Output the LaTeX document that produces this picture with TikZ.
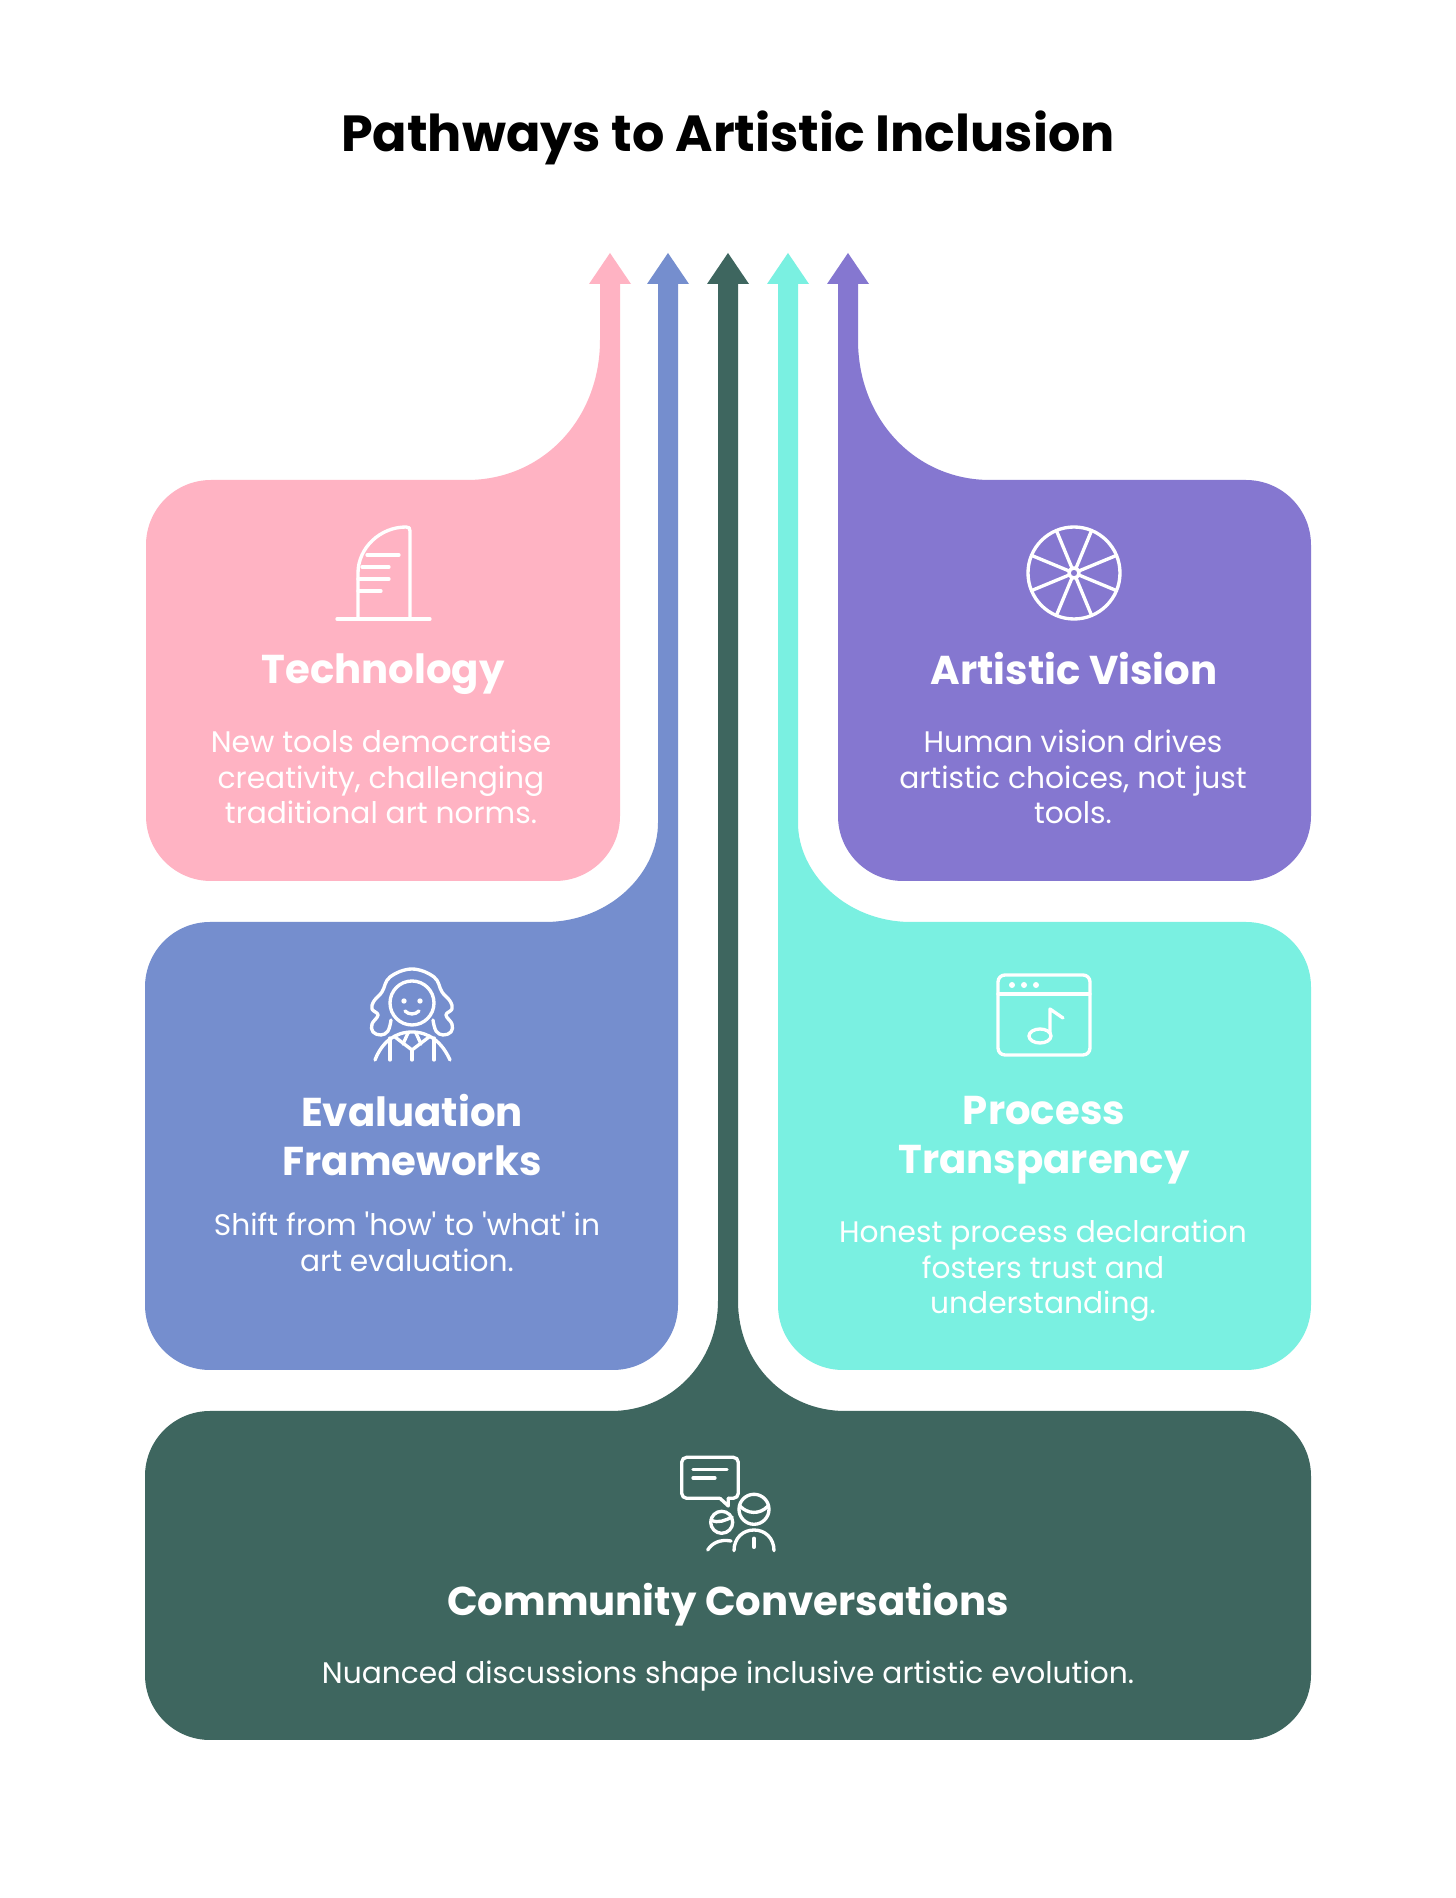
\documentclass[tikz,border=0pt]{standalone}
\usepackage{fontspec}
\setmainfont{Poppins}[Ligatures=TeXOff]
\tikzset{
  pagetitle/.style={font=\fontsize{14.45}{17}\selectfont\bfseries, text=black},
  cardtitle/.style={font=\fontsize{11.45}{13.8}\selectfont\bfseries, text=white, align=center},
  cardtext/.style={font=\fontsize{8.45}{10.15}\selectfont, text=white, align=center},
  icon/.style={draw=white, line width=0.95pt, line cap=round, line join=round},
  icondot/.style={fill=white, draw=none}
}
\begin{document}
\begin{tikzpicture}

\definecolor{pinkcolor}{RGB}{255, 179, 195}
\definecolor{bluecolor}{RGB}{117, 142, 206}
\definecolor{greencolor}{RGB}{62, 102, 95}
\definecolor{tealcolor}{RGB}{122, 240, 225}
\definecolor{purplecolor}{RGB}{133, 119, 208}

\useasboundingbox (0, 0) rectangle (14.56, 18.98);
\fill[white] (0, 0) rectangle (14.56, 18.98);

\node[pagetitle] (title) at (7.28, 17.60) {Pathways to Artistic Inclusion};

\fill[pinkcolor] (6.10, 16.45) -- (6.31, 16.14) -- (6.20, 16.14) -- (6.20, 10.82)
  arc[start angle=0, end angle=-90, radius=0.65] -- (2.11, 10.17)
  arc[start angle=270, end angle=180, radius=0.65] -- (1.46, 13.53)
  arc[start angle=180, end angle=90, radius=0.65] -- (4.67, 14.18)
  .. controls (5.42, 14.18) and (6.00, 14.78) .. (6.00, 15.58)
  -- (6.00, 16.14) -- (5.89, 16.14) -- cycle;

\fill[bluecolor] (6.68, 16.45) -- (6.89, 16.14) -- (6.78, 16.14) -- (6.78, 5.93)
  arc[start angle=0, end angle=-90, radius=0.65] -- (2.10, 5.28)
  arc[start angle=270, end angle=180, radius=0.65] -- (1.45, 9.11)
  arc[start angle=180, end angle=90, radius=0.65] -- (5.45, 9.76)
  .. controls (6.10, 9.76) and (6.58, 10.25) .. (6.58, 10.75)
  -- (6.58, 16.14) -- (6.47, 16.14) -- cycle;

\fill[greencolor] (7.28, 16.45) -- (7.49, 16.14) -- (7.38, 16.14) -- (7.38, 5.97)
  .. controls (7.38, 5.35) and (7.85, 4.87) .. (8.45, 4.87)
  -- (12.46, 4.87) arc[start angle=90, end angle=0, radius=0.65] -- (13.11, 2.23)
  arc[start angle=0, end angle=-90, radius=0.65] -- (2.10, 1.58)
  arc[start angle=270, end angle=180, radius=0.65] -- (1.45, 4.22)
  arc[start angle=180, end angle=90, radius=0.65] -- (6.11, 4.87)
  .. controls (6.71, 4.87) and (7.18, 5.35) .. (7.18, 5.97)
  -- (7.18, 16.14) -- (7.07, 16.14) -- cycle;

\fill[tealcolor] (7.88, 16.45) -- (8.09, 16.14) -- (7.98, 16.14) -- (7.98, 10.75)
  .. controls (7.98, 10.25) and (8.46, 9.76) .. (9.11, 9.76)
  -- (12.46, 9.76) arc[start angle=90, end angle=0, radius=0.65] -- (13.11, 5.93)
  arc[start angle=0, end angle=-90, radius=0.65] -- (8.43, 5.28)
  arc[start angle=270, end angle=180, radius=0.65] -- (7.78, 16.14)
  -- (7.67, 16.14) -- cycle;

\fill[purplecolor] (8.48, 16.45) -- (8.69, 16.14) -- (8.58, 16.14) -- (8.58, 15.58)
  .. controls (8.58, 14.78) and (9.16, 14.18) .. (9.90, 14.18)
  -- (12.46, 14.18) arc[start angle=90, end angle=0, radius=0.65] -- (13.11, 10.82)
  arc[start angle=0, end angle=-90, radius=0.65] -- (9.03, 10.17)
  arc[start angle=270, end angle=180, radius=0.65] -- (8.38, 16.14)
  -- (8.27, 16.14) -- cycle;

\draw[icon] (3.37, 12.79) -- (4.30, 12.79);
\draw[icon] (3.58, 12.79) -- (3.58, 13.25) .. controls (3.58, 13.50) and (3.80, 13.71) .. (4.06, 13.71)
  .. controls (4.09, 13.71) and (4.10, 13.70) .. (4.10, 13.67) -- (4.10, 12.79);
\draw[icon] (3.67, 13.43) -- (3.99, 13.43);
\draw[icon] (3.62, 13.31) -- (3.89, 13.31);
\draw[icon] (3.58, 13.19) -- (3.89, 13.19);
\draw[icon] (3.58, 13.07) -- (3.81, 13.07);

\draw[icon] (10.74, 13.25) circle (0.46);
\draw[icon] (10.74, 13.25) circle (0.05);
\foreach \spoke in {22.5, 67.5, ..., 337.5} {
  \draw[icon] (10.74, 13.25) ++(\spoke:0.05) -- ++(\spoke:0.41);
}

\draw[icon] (4.12, 8.95) circle (0.22);
\fill[icondot] (4.04, 8.97) circle (0.027);
\fill[icondot] (4.20, 8.97) circle (0.027);
\draw[icon] (4.05, 8.87) .. controls (4.09, 8.83) and (4.15, 8.83) .. (4.19, 8.87);
\draw[icon] plot[smooth, tension=0.65] coordinates {(3.91, 8.78) (3.88, 8.67) (3.81, 8.63) (3.73, 8.66) (3.72, 8.74) (3.78, 8.83) (3.72, 8.89) (3.74, 8.97) (3.82, 9.06) (3.90, 9.21) (4.12, 9.29) (4.34, 9.21) (4.42, 9.06) (4.50, 8.97) (4.52, 8.89) (4.46, 8.83) (4.52, 8.74) (4.51, 8.66) (4.43, 8.63) (4.36, 8.67) (4.33, 8.78)};
\draw[icon] (3.75, 8.38) .. controls (3.82, 8.56) and (3.95, 8.66) .. (4.12, 8.66)
  .. controls (4.29, 8.66) and (4.42, 8.56) .. (4.50, 8.38);
\draw[icon] (3.90, 8.60) -- (3.90, 8.38);
\draw[icon] (4.34, 8.60) -- (4.34, 8.38);
\draw[icon] (3.95, 8.61) -- (4.12, 8.48) -- (4.29, 8.61);
\draw[icon] (4.12, 8.48) -- (4.12, 8.38);
\draw[icon] (4.08, 8.65) -- (4.03, 8.54);
\draw[icon] (4.16, 8.65) -- (4.21, 8.54);

\draw[icon, rounded corners=0.07cm] (9.98, 8.43) rectangle (10.90, 9.23);
\draw[icon] (9.98, 9.04) -- (10.90, 9.04);
\foreach \dotx in {10.12, 10.24, 10.36} {
  \fill[icondot] (\dotx, 9.13) circle (0.03);
}
\draw[icon] (10.40, 8.62) ellipse (0.11 and 0.07);
\draw[icon] (10.50, 8.65) -- (10.50, 8.89) -- (10.63, 8.80);

\draw[icon, rounded corners=0.05cm] (7.20, 3.997) -- (6.817, 3.997) -- (6.817, 4.407) -- (7.383, 4.407) -- (7.383, 3.997) -- (7.283, 3.997);
\draw[icon] (7.20, 3.997) -- (7.283, 3.92) -- (7.283, 3.997);
\draw[icon] (6.93, 4.287) -- (7.27, 4.287);
\draw[icon] (6.93, 4.20) -- (7.15, 4.20);
\draw[icon] (7.54, 3.887) circle (0.15);
\draw[icon] (7.40, 3.92) .. controls (7.47, 3.84) and (7.60, 3.83) .. (7.68, 3.92);
\draw[icon] (7.34, 3.473) .. controls (7.34, 3.60) and (7.43, 3.68) .. (7.54, 3.68)
  .. controls (7.65, 3.68) and (7.74, 3.60) .. (7.74, 3.473);
\draw[icon] (7.54, 3.597) -- (7.54, 3.507);
\draw[icon] (7.217, 3.757) circle (0.11);
\draw[icon] (7.11, 3.78) .. controls (7.18, 3.74) and (7.26, 3.78) .. (7.32, 3.81);
\draw[icon] (7.077, 3.48) .. controls (7.12, 3.55) and (7.20, 3.59) .. (7.31, 3.57);

\node[cardtitle] (technology) at (3.83, 12.24) {Technology};
\node[cardtext] (technologytext) at (3.81, 11.21) {New tools democratise\\creativity, challenging\\traditional art norms.};

\node[cardtitle] (vision) at (10.74, 12.29) {Artistic Vision};
\node[cardtext] (visiontext) at (10.73, 11.21) {Human vision drives\\artistic choices, not just\\tools.};

\node[cardtitle] (evaluation) at (4.12, 7.63) {Evaluation\\Frameworks};
\node[cardtext] (evaluationtext) at (4.07, 6.56) {Shift from 'how' to 'what' in\\art evaluation.};

\node[cardtitle] (process) at (10.44, 7.58) {Process\\Transparency};
\node[cardtext] (processtext) at (10.43, 6.27) {Honest process declaration\\fosters trust and\\understanding.};

\node[cardtitle] (community) at (7.28, 2.93) {Community Conversations};
\node[cardtext] (communitytext) at (7.28, 2.22) {Nuanced discussions shape inclusive artistic evolution.};

\end{tikzpicture}
\end{document}
